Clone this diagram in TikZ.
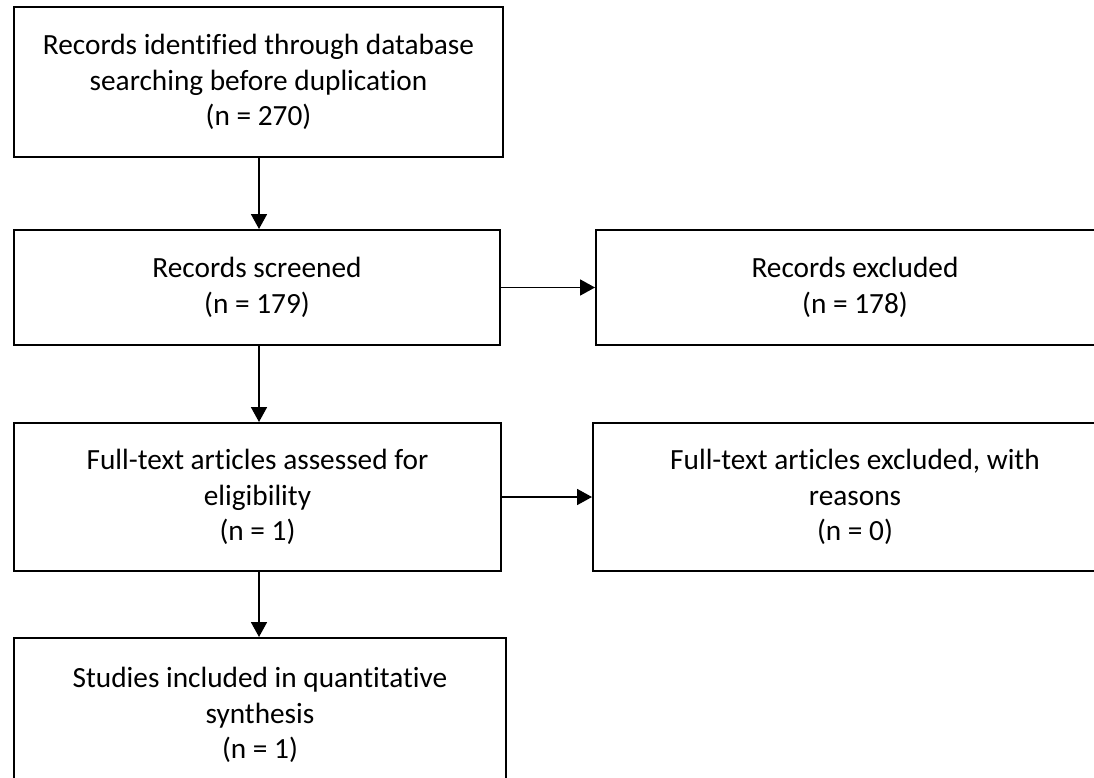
\documentclass[tikz,border=0pt]{standalone}
\usepackage{fontspec}
\setmainfont[Ligatures=NoCommon]{Carlito}
\usetikzlibrary{arrows.meta}
\tikzset{
  boxnode/.style={draw=black, line width=2pt, rectangle, inner sep=0pt, align=center,
    font=\fontsize{29.3}{35.4}\selectfont, text=black},
  arr/.style={line width=1.8pt, -{Triangle[length=15pt,width=16pt]}}
}
\begin{document}
\begin{tikzpicture}[x=1pt,y=-1pt]
\useasboundingbox (0,0) rectangle (1094,778);
\clip (0,0) rectangle (1094,778);
\node[boxnode, minimum width=489pt, minimum height=150pt] (b1) at (258.5,82)
  {Records identified through database\\searching before duplication\\(n = 270)};
\node[boxnode, minimum width=486pt, minimum height=115pt] (b2) at (257,287.5)
  {Records screened\\(n = 179)};
\node[boxnode, minimum width=487pt, minimum height=148pt] (b3) at (257.5,497)
  {Full-text articles assessed for\\eligibility\\(n = 1)};
\node[boxnode, minimum width=492pt, minimum height=154pt] (b4) at (260,715)
  {Studies included in quantitative\\synthesis\\(n = 1)};
\node[boxnode, minimum width=518pt, minimum height=115pt] (e1) at (855,287.5)
  {Records excluded\\(n = 178)};
\node[boxnode, minimum width=524pt, minimum height=148pt] (e2) at (855,497)
  {Full-text articles excluded, with\\reasons\\(n = 0)};
\coordinate (ax) at (259,0);
\draw[arr] (b1.south -| ax) -- (b2.north -| ax);
\draw[arr] (b2.south -| ax) -- (b3.north -| ax);
\draw[arr] (b3.south -| ax) -- (b4.north -| ax);
\draw[arr] (b2.east) -- (e1.west);
\draw[arr] (b3.east) -- (e2.west);
\end{tikzpicture}
\end{document}
